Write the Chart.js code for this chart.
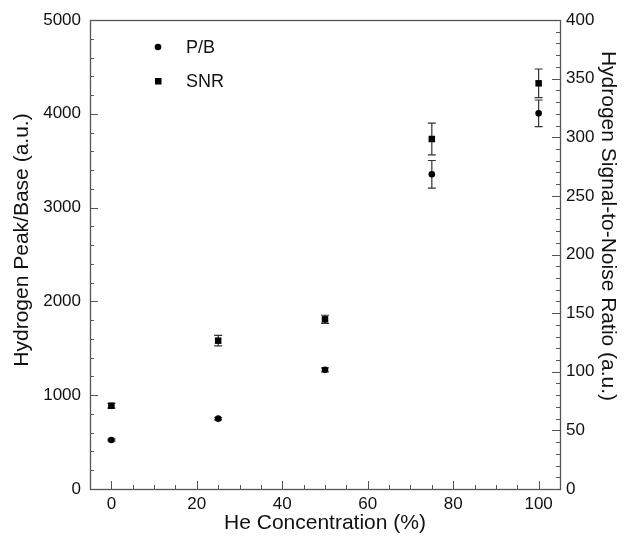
<!DOCTYPE html>
<html>
<head>
<meta charset="utf-8">
<script src="https://cdn.jsdelivr.net/npm/chart.js@4/dist/chart.umd.min.js"></script>
<style>
  body { margin: 0; background: #fff; }
  #wrap { width: 629px; height: 541px; position: relative; }
</style>
</head>
<body>
<div id="wrap"><canvas id="grafico"></canvas></div>
<script>
// Dados
const heConc = [0, 25, 50, 75, 100];
const pbValores = [522, 750, 1270, 3355, 4005];
const pbErros = [10, 12, 22, 147, 142];
const snrValores = [71, 126.5, 144.7, 298.5, 346];
const snrErros = [2, 4.5, 3.5, 13.5, 12.2];

const xTicks = [0, 20, 40, 60, 80, 100];
const pbTicks = [0, 1000, 2000, 3000, 4000, 5000];
const snrTicks = [0, 50, 100, 150, 200, 250, 300, 350, 400];

const tituloEsq = 'Hydrogen Peak/Base (a.u.)';
const tituloDir = 'Hydrogen Signal-to-Noise Ratio (a.u.)';

const fonte = 'Liberation Sans, Arial, Helvetica, sans-serif';
const corEixo = '#555';

function pontos(xs, ys) {
    return xs.map((x, i) => ({ x: x, y: ys[i] }));
}

// Barras de erro desenhadas pelas escalas do grafico
const barrasErro = {
    id: 'barrasErro',
    beforeDatasetsDraw(chart) {
        const ctx = chart.ctx;
        ctx.save();
        ctx.strokeStyle = '#333';
        ctx.lineWidth = 1.2;
        chart.data.datasets.forEach((ds, i) => {
            const meta = chart.getDatasetMeta(i);
            const escala = chart.scales[ds.yAxisID];
            meta.data.forEach((p, j) => {
                const v = ds.data[j].y;
                const e = ds.erros[j];
                const y1 = escala.getPixelForValue(v + e);
                const y2 = escala.getPixelForValue(v - e);
                ctx.beginPath();
                ctx.moveTo(p.x, y1); ctx.lineTo(p.x, y2);
                ctx.moveTo(p.x - 4, y1); ctx.lineTo(p.x + 4, y1);
                ctx.moveTo(p.x - 4, y2); ctx.lineTo(p.x + 4, y2);
                ctx.stroke();
            });
        });
        ctx.restore();
    }
};

// Moldura e marcas de escala para dentro
function marcas(ctx, escala, passoMaior, passoMenor, lado, area) {
    for (let v = escala.min; v <= escala.max + 1e-9; v += passoMenor) {
        const val = Math.round(v / passoMenor) * passoMenor;
        if (val < escala.min || val > escala.max) continue;
        const maior = Math.abs(val / passoMaior - Math.round(val / passoMaior)) < 1e-6;
        const len = maior ? 8 : 4;
        const pos = Math.round(escala.getPixelForValue(val)) + 0.5;
        ctx.beginPath();
        if (lado === 'bottom') {
            ctx.moveTo(pos, area.bottom); ctx.lineTo(pos, area.bottom - len);
        } else if (lado === 'left') {
            ctx.moveTo(area.left, pos); ctx.lineTo(area.left + len, pos);
        } else {
            ctx.moveTo(area.right, pos); ctx.lineTo(area.right - len, pos);
        }
        ctx.stroke();
    }
}

const moldura = {
    id: 'moldura',
    afterDraw(chart) {
        const ctx = chart.ctx;
        const a = chart.chartArea;
        ctx.save();
        ctx.strokeStyle = corEixo;
        ctx.lineWidth = 1.3;
        ctx.strokeRect(a.left + 0.5, a.top + 0.5, a.right - a.left, a.bottom - a.top);
        ctx.lineWidth = 1;
        marcas(ctx, chart.scales.x, 20, 5, 'bottom', a);
        marcas(ctx, chart.scales.y, 1000, 200, 'left', a);
        marcas(ctx, chart.scales.y1, 50, 10, 'right', a);

        // titulos dos eixos verticais
        ctx.fillStyle = '#111';
        ctx.font = '21px ' + fonte;
        ctx.textAlign = 'center';
        ctx.textBaseline = 'middle';
        ctx.save();
        ctx.translate(22, 240);
        ctx.rotate(-Math.PI / 2);
        ctx.fillText(tituloEsq, 0, 0);
        ctx.restore();
        ctx.save();
        ctx.translate(608, 226);
        ctx.rotate(Math.PI / 2);
        ctx.fillText(tituloDir, 0, 0);
        ctx.restore();
        ctx.restore();
    }
};

// Legenda dentro da area do grafico
const legenda = {
    id: 'legenda',
    afterDraw(chart) {
        const ctx = chart.ctx;
        ctx.save();
        ctx.fillStyle = '#000';
        ctx.beginPath();
        ctx.arc(158, 47, 3.3, 0, Math.PI * 2);
        ctx.fill();
        ctx.fillRect(155, 78, 6.5, 6.5);
        ctx.font = '18px ' + fonte;
        ctx.textBaseline = 'middle';
        ctx.fillStyle = '#111';
        ctx.fillText(chart.data.datasets[0].label, 186, 48);
        ctx.fillText(chart.data.datasets[1].label, 186, 82);
        ctx.restore();
    }
};

const tickFont = { family: fonte, size: 17 };
const tituloFont = { family: fonte, size: 21 };
const semVirgula = (v) => String(v);

new Chart(document.getElementById('grafico').getContext('2d'), {
    type: 'scatter',
    data: {
        datasets: [{
            label: 'P/B',
            data: pontos(heConc, pbValores),
            erros: pbErros,
            yAxisID: 'y',
            pointStyle: 'circle',
            radius: 3.3,
            backgroundColor: '#000',
            borderColor: '#000',
            borderWidth: 0,
        }, {
            label: 'SNR',
            data: pontos(heConc, snrValores),
            erros: snrErros,
            yAxisID: 'y1',
            pointStyle: 'rect',
            radius: 4.6,
            backgroundColor: '#000',
            borderColor: '#000',
            borderWidth: 0,
        }]
    },
    options: {
        responsive: true,
        maintainAspectRatio: false,
        animation: false,
        layout: { padding: { top: 20, left: 0, right: 0, bottom: 0 } },
        plugins: {
            legend: { display: false },
            tooltip: { enabled: false },
        },
        scales: {
            x: {
                type: 'linear',
                position: 'bottom',
                min: -5,
                max: 105,
                afterBuildTicks: (s) => { s.ticks = xTicks.map(v => ({ value: v })); },
                afterFit: (s) => { s.height = 52; },
                grid: { display: false, drawTicks: false },
                border: { display: false },
                ticks: { font: tickFont, color: '#111', padding: 5, maxRotation: 0, autoSkip: false, callback: semVirgula },
                title: { display: true, text: 'He Concentration (%)', font: tituloFont, color: '#111', padding: { top: 0, bottom: 5 } },
            },
            y: {
                type: 'linear',
                position: 'left',
                min: 0,
                max: 5000,
                afterBuildTicks: (s) => { s.ticks = pbTicks.map(v => ({ value: v })); },
                afterFit: (s) => { s.width = 90; },
                grid: { display: false, drawTicks: false },
                border: { display: false },
                ticks: { font: tickFont, color: '#111', padding: 9, callback: semVirgula },
            },
            y1: {
                type: 'linear',
                position: 'right',
                min: 0,
                max: 400,
                afterBuildTicks: (s) => { s.ticks = snrTicks.map(v => ({ value: v })); },
                afterFit: (s) => { s.width = 69; },
                grid: { display: false, drawTicks: false },
                border: { display: false },
                ticks: { font: tickFont, color: '#111', padding: 6, callback: semVirgula },
            }
        }
    },
    plugins: [barrasErro, moldura, legenda]
});
</script>
</body>
</html>
